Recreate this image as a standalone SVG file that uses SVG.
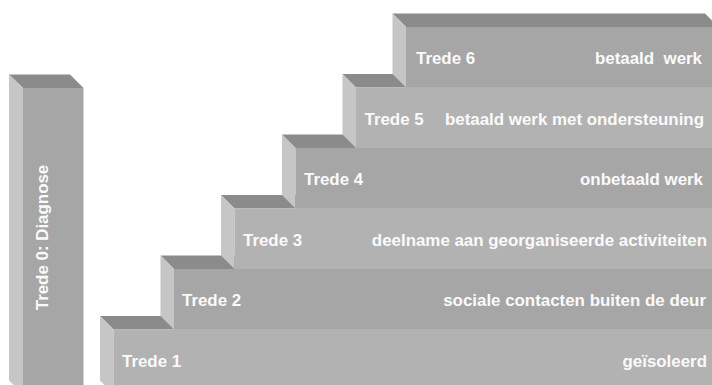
<svg xmlns="http://www.w3.org/2000/svg" width="712" height="385" viewBox="0 0 712 385">
<style>
.top{fill:#8b8b8b}
.side{fill:#c6c6c6}
.dark{fill:#a6a6a6}
.light{fill:#b2b2b2}
.sep{stroke:#bcbcbc;stroke-width:1}
text{font-family:"Liberation Sans",Arial,sans-serif;font-weight:bold;font-size:16.9px;fill:#fafafa}
.r{text-anchor:end}
</style>
<rect width="712" height="385" fill="#ffffff"/>
<g id="pillar">
<polygon class="top" points="9,74.5 70,74.5 83.5,88 23,88"/>
<polygon class="side" points="9,74.5 23,88 23,394 9,380.5"/>
<rect class="dark" x="23" y="88" width="60.5" height="297"/>
<text transform="translate(48,237.5) rotate(-90)" text-anchor="middle">Trede 0: Diagnose</text>
</g>
<g id="step1">
<polygon class="top" points="100,316 730,316 730,329.5 113.5,329.5"/>
<polygon class="side" points="100,316 113.5,329.5 113.5,394 100,380.5"/>
<rect class="light" x="113.5" y="329.5" width="600" height="60"/>
<line class="sep" x1="174" y1="329.5" x2="712" y2="329.5"/>
<text x="122" y="366.5">Trede 1</text>
<text class="r" x="707" y="366.5">geïsoleerd</text>
</g>
<g id="step2">
<polygon class="top" points="160.5,255.5 730,255.5 730,269 174,269"/>
<polygon class="side" points="160.5,255.5 174,269 174,329.5 160.5,316"/>
<rect class="dark" x="174" y="269" width="540" height="60.5"/>
<text x="182" y="306">Trede 2</text>
<text class="r" x="706" y="306">sociale contacten buiten de deur</text>
</g>
<g id="step3">
<polygon class="top" points="221,195 730,195 730,208.5 234.5,208.5"/>
<polygon class="side" points="221,195 234.5,208.5 234.5,269 221,255.5"/>
<rect class="light" x="234.5" y="208.5" width="480" height="60.5"/>
<text x="243" y="245.5">Trede 3</text>
<text class="r" x="707" y="245.5">deelname aan georganiseerde activiteiten</text>
</g>
<g id="step4">
<polygon class="top" points="282,134.5 730,134.5 730,148 295.5,148"/>
<polygon class="side" points="282,134.5 295.5,148 295.5,208.5 282,195"/>
<rect class="dark" x="295.5" y="148" width="420" height="60.5"/>
<text x="304" y="185">Trede 4</text>
<text class="r" x="703" y="185">onbetaald werk</text>
</g>
<g id="step5">
<polygon class="top" points="342.5,74 730,74 730,87.5 356,87.5"/>
<polygon class="side" points="342.5,74 356,87.5 356,148 342.5,134.5"/>
<rect class="light" x="356" y="87.5" width="360" height="60.5"/>
<text x="364.5" y="124.5">Trede 5</text>
<text class="r" x="704" y="124.5">betaald werk met ondersteuning</text>
</g>
<g id="step6">
<polygon class="top" points="392.5,13.5 705,13.5 718.5,27 406,27"/>
<polygon class="side" points="392.5,13.5 406,27 406,87.5 392.5,74"/>
<rect class="dark" x="406" y="27" width="310" height="60.5"/>
<text x="416" y="64">Trede 6</text>
<text class="r" x="702" y="64" xml:space="preserve">betaald  werk</text>
</g>
<g id="connectors"/>
</svg>
